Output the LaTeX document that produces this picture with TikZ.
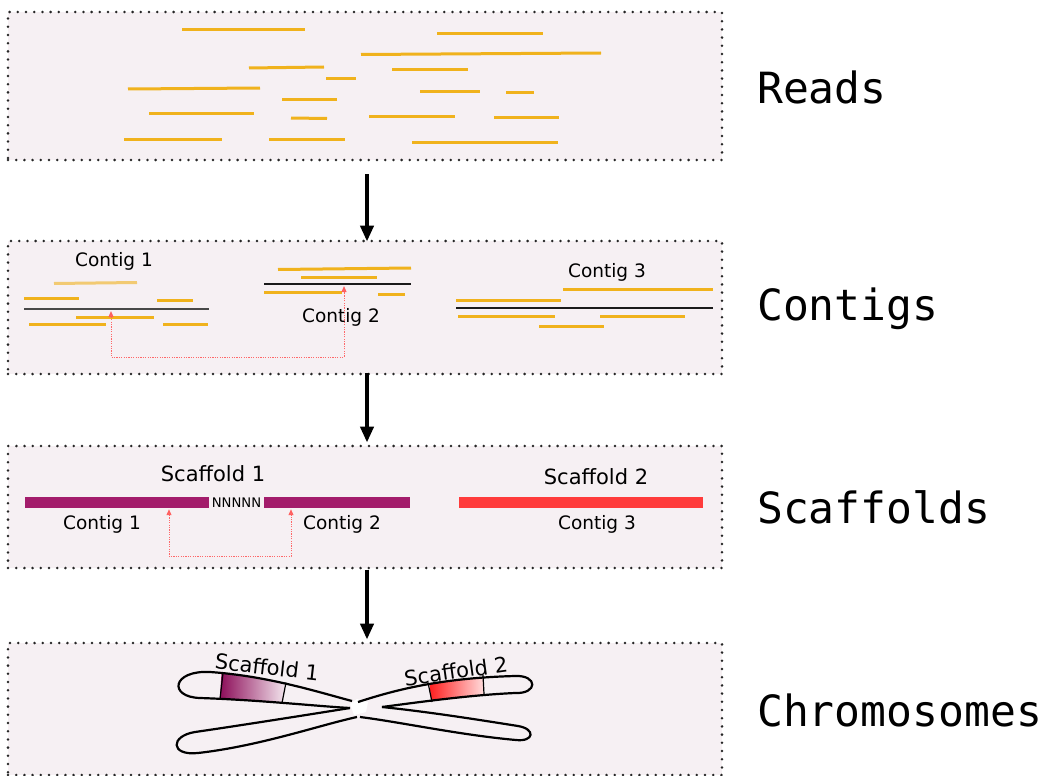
\documentclass[tikz,border=0pt]{standalone}
\usepackage{fontspec}
\setmainfont{DejaVu Sans}
\newfontfamily\stagefont{DejaVu Sans Mono}
\usetikzlibrary{arrows.meta}

\definecolor{panelfill}{HTML}{F6F0F3}
\definecolor{dotcol}{HTML}{262626}
\definecolor{readcol}{HTML}{F0B21C}
\definecolor{contigline}{HTML}{1A1A1A}
\definecolor{scafpurple}{HTML}{A31C6B}
\definecolor{scafred}{HTML}{FF3B3B}
\definecolor{linkred}{HTML}{FF5A5A}
\definecolor{bandpurple}{HTML}{8B0A57}
\definecolor{bandred}{HTML}{FF1A1A}

\tikzset{
  panel/.style={draw=dotcol, line width=2.8pt, dash pattern=on 0pt off 8.2pt,
    line cap=round, fill=panelfill, minimum width=714pt, minimum height=#1,
    inner sep=0pt},
  stepflow/.style={-{Triangle[width=13pt,length=16pt]}, line width=4.5pt, black},
  stagelabel/.style={font=\stagefont\fontsize{43}{50}\selectfont, inner sep=0pt,
    anchor=base west},
  readline/.style={readcol, line width=3pt},
  contigbar/.style={contigline, line width=2.4pt},
  smalltext/.style={font=\fontsize{18.5}{22}\selectfont, inner sep=0pt, anchor=base},
  scaftext/.style={font=\fontsize{21}{25}\selectfont, inner sep=0pt},
  scafbar/.style={minimum height=11pt, inner sep=0pt, draw=none},
  linkarrow/.style={{Triangle[width=5pt,length=6pt]}-{Triangle[width=5pt,length=6pt]},
    linkred, line width=1pt, dash pattern=on 1.3pt off 1.1pt, opacity=.9},
  armline/.style={black, line width=2.2pt, line join=round},
}

\begin{document}
\begin{tikzpicture}[x=1pt,y=-1pt]
\useasboundingbox (0,0) rectangle (1047,776);
\fill[white] (0,0) rectangle (1047,776);

% stage panels
\node[panel=148pt] (reads) at (365,86) {};
\node[panel=133pt] (contigs) at (365,307.5) {};
\node[panel=122pt] (scaffolds) at (365,507) {};
\node[panel=132pt] (chromosomes) at (365,709) {};

% flow between stages
\draw[stepflow] ([xshift=2pt,yshift=-13pt]reads.south) -- ([xshift=2pt,yshift=-2pt]contigs.north);
\draw[stepflow] ([xshift=2pt,yshift=2pt]contigs.south) -- ([xshift=2pt,yshift=2pt]scaffolds.north);
\draw[stepflow] ([xshift=2pt,yshift=-1pt]scaffolds.south) -- ([xshift=2pt,yshift=2pt]chromosomes.north);

% stage names
\node[stagelabel] (lreads) at (757,103) {Reads};
\node[stagelabel] (lcontigs) at (757,320) {Contigs};
\node[stagelabel] (lscaffolds) at (757,523) {Scaffolds};
\node[stagelabel] (lchromosomes) at (757,726) {Chromosomes};

% ---- raw reads
\foreach \xa/\ya/\xb/\yb in {
  182/30/305/30, 437/34/543/34, 361/54.5/601/53, 249/68/324/67,
  392/70/468/70, 326/79/356/79, 128/89/260/88, 420/91/480/91,
  506/92/534/92, 282/99/337/99, 149/113/254/113, 291/118/327/118.5,
  369/116/455/116, 494/117/559/117, 124/139/222/139, 269/139/345/139,
  412/142/558/142}
  \draw[readline] (\xa,\ya) -- (\xb,\yb);

% ---- contigs
% contig 1
\draw[readline, opacity=.6] (54,283.5) -- (137,282.5);
\foreach \xa/\ya/\xb/\yb in {24/298/79/298, 157/300/193/300, 76/317/154/317,
  29/324/106/324, 163/324/208/324}
  \draw[readline] (\xa,\ya) -- (\xb,\yb);
\draw[contigbar, contigline!80] (24,309) coordinate (c1start) -- (209,309) coordinate (c1end);
% contig 2
\foreach \xa/\ya/\xb/\yb in {278/269.5/411/268, 301/277/377/277, 264/292/342/292,
  378/294/405/294}
  \draw[readline] (\xa,\ya) -- (\xb,\yb);
\draw[contigbar] (264,284) coordinate (c2start) -- (411,284) coordinate (c2end);
% contig 3
\foreach \xa/\ya/\xb/\yb in {563/289/713/289, 456/300/561/300, 458/316/555/316,
  600/316/685/316, 539/326/604/326}
  \draw[readline] (\xa,\ya) -- (\xb,\yb);
\draw[contigbar, line width=2.8pt] (456,308) coordinate (c3start) -- (713,308) coordinate (c3end);

\node[smalltext] (tc1) at (114,266) {Contig 1};
\node[smalltext] (tc2) at (341,322) {Contig 2};
\node[smalltext] (tc3) at (607,277) {Contig 3};

% paired-read link between contig 1 and contig 2
\coordinate (c1link) at (111,311);
\coordinate (c2link) at (344,286);
\draw[linkarrow] (c1link) -- ++(0,46) -| (c2link);

% ---- scaffolds
\node[scafbar, fill=scafpurple, minimum width=184pt] (s1a) at (117,502) {};
\node[scafbar, fill=scafpurple, minimum width=146pt] (s1b) at (337,502) {};
\node[scafbar, fill=scafred, minimum width=244pt] (s2) at (581,502) {};
\node[font=\fontsize{13.2}{15}\selectfont, inner sep=0pt] (gap) at (236.5,502.5) {NNNNN};

\node[scaftext, anchor=base] (ts1) at (213,481) {Scaffold 1};
\node[scaftext, anchor=base] (ts2) at (596,484) {Scaffold 2};
\node[smalltext] (tsc1) at (102,529) {Contig 1};
\node[smalltext] (tsc2) at (342,529) {Contig 2};
\node[smalltext] (tsc3) at (597,529) {Contig 3};

\draw[linkarrow] ([xshift=52pt,yshift=-1.5pt]s1a.south) -- ++(0,47) -| ([xshift=-46pt,yshift=-1.5pt]s1b.south);

% ---- chromosome
\fill[white] (350,704) -- (357,699) -- (368,702) -- (366,712) -- (354,715) -- cycle;

\path[save path=\armUL] (352,701) .. controls (318,692) and (268,676) .. (210,672)
  .. controls (172,670) and (168,697) .. (200,698)
  .. controls (260,700) and (315,706) .. (350,708);
\path[save path=\armUR] (358,702) .. controls (395,690) and (440,678) .. (515,676)
  .. controls (538,675) and (538,694) .. (515,693)
  .. controls (470,695) and (420,702) .. (382,707);
\path[save path=\armLR] (382,707) .. controls (430,712) and (480,720) .. (518,726)
  .. controls (536,729) and (534,742) .. (516,740)
  .. controls (460,735) and (400,722) .. (360,717);
\path[save path=\armLL] (350,708) .. controls (300,716) and (230,727) .. (195,732)
  .. controls (170,736) and (170,756) .. (198,753)
  .. controls (260,746) and (320,725) .. (357,717);

% scaffold bands placed on the upper arms
\begin{scope}
  \clip[use path=\armUL];
  \shade[left color=bandpurple, right color=bandpurple!8]
    (222,665) -- (287,665) -- (282,712) -- (219,712) -- cycle;
\end{scope}
\begin{scope}
  \clip[use path=\armUR];
  \shade[left color=bandred, right color=bandred!15]
    (428,665) -- (483,665) -- (484,712) -- (432,712) -- cycle;
\end{scope}
\draw[black, line width=1.2pt] (223,673) -- (220,699) (286,682.5) -- (282,703);
\draw[black, line width=1.2pt] (428,682.5) -- (432,702) (483,675) -- (484,694);

\draw[armline, use path=\armUL];
\draw[armline, use path=\armUR];
\draw[armline, use path=\armLR];
\draw[armline, use path=\armLL];

\node[scaftext, rotate=-6.5] (tch1) at (267,667) {Scaffold 1};
\node[scaftext, rotate=8] (tch2) at (456,671) {Scaffold 2};
\end{tikzpicture}
\end{document}
